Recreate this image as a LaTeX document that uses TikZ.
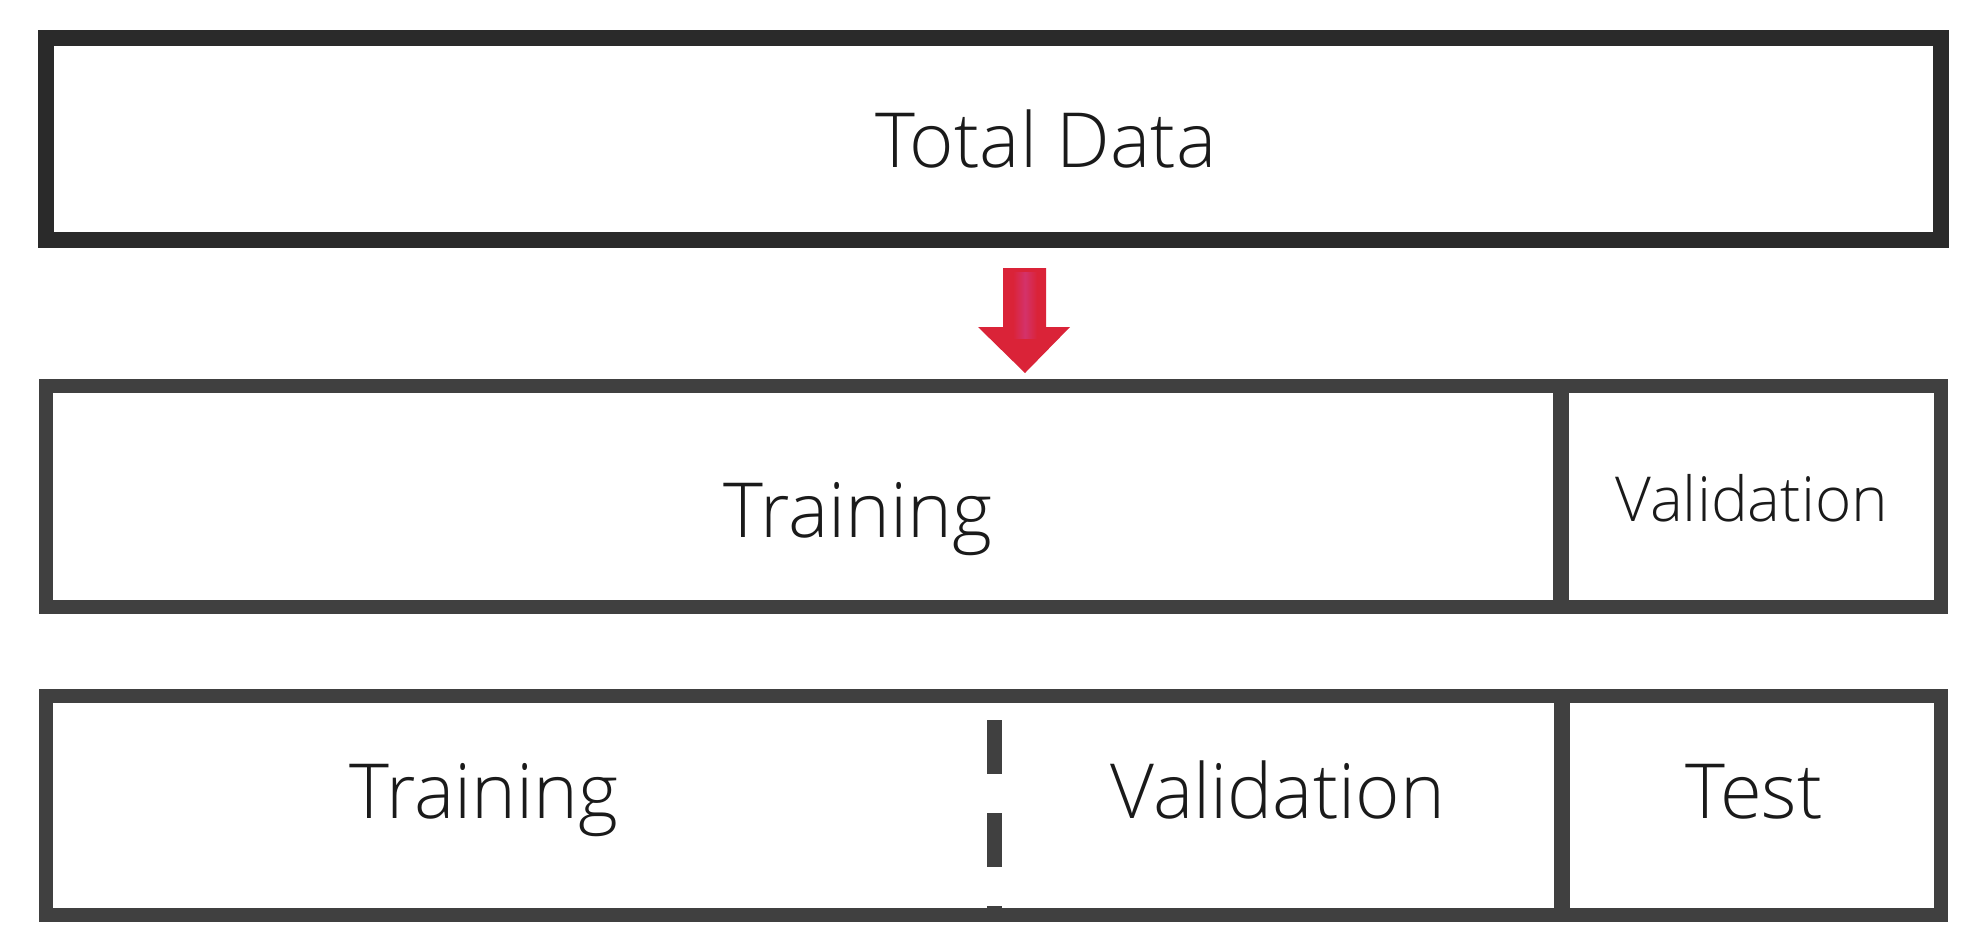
\documentclass[tikz,border=0pt]{standalone}
\usepackage{fontspec}
\setmainfont{Open Sans}[UprightFont={* Light}]
\definecolor{frameA}{HTML}{2A2A2A}
\definecolor{frameB}{HTML}{404040}
\definecolor{arrowred}{HTML}{DA2338}
\definecolor{arrowpink}{HTML}{D4326A}
\definecolor{txt}{HTML}{1A1A1A}
\begin{document}
\begin{tikzpicture}[x=0.5pt,y=-0.5pt,
  boxA/.style={draw=frameA,line width=8pt},
  boxB/.style={draw=frameB,line width=7.25pt},
  divider/.style={draw=frameB,line width=8pt},
  dashdiv/.style={draw=frameB,line width=7.5pt,dash pattern=on 27pt off 19.5pt},
  big/.style={font=\fontsize{38}{44}\selectfont,text=txt,inner sep=0pt,anchor=base},
  small/.style={font=\fontsize{31}{36}\selectfont,text=txt,inner sep=0pt,anchor=base}]
\useasboundingbox (0,0) rectangle (1968,944);
% boxes
\draw[boxA] (46,38) rectangle (1941,240);
\draw[boxB] (46,386) rectangle (1941,607);
\draw[boxB] (46,696) rectangle (1941,915);
% dividers
\coordinate (d2t) at (1561,386);
\coordinate (d2b) at (1561,607);
\coordinate (d3t) at (1562,696);
\coordinate (d3b) at (1562,915);
\draw[divider] (d2t) -- (d2b);
\draw[divider] (d3t) -- (d3b);
\coordinate (dst) at (994,720);
\coordinate (dsb) at (994,908);
\draw[dashdiv] (dst) -- (dsb);
% arrow
\fill[arrowred] (1003,268) -- (1046,268) -- (1046,327) -- (1070,327) -- (1025,373) -- (978,327) -- (1003,327) -- cycle;
\shade[left color=arrowred,right color=arrowred,middle color=arrowpink] (1013,272) rectangle (1037,338);
% texts
\node[big] (total) at (1046,167) {Total Data};
\node[big] (train1) at (858,537) {Training};
\node[small] (val1) at (1752,521) {Validation};
\node[big] (train2) at (484,818) {Training};
\node[big] (val2) at (1278,818) {Validation};
\node[big] (test) at (1754,818) {Test};
\end{tikzpicture}
\end{document}
